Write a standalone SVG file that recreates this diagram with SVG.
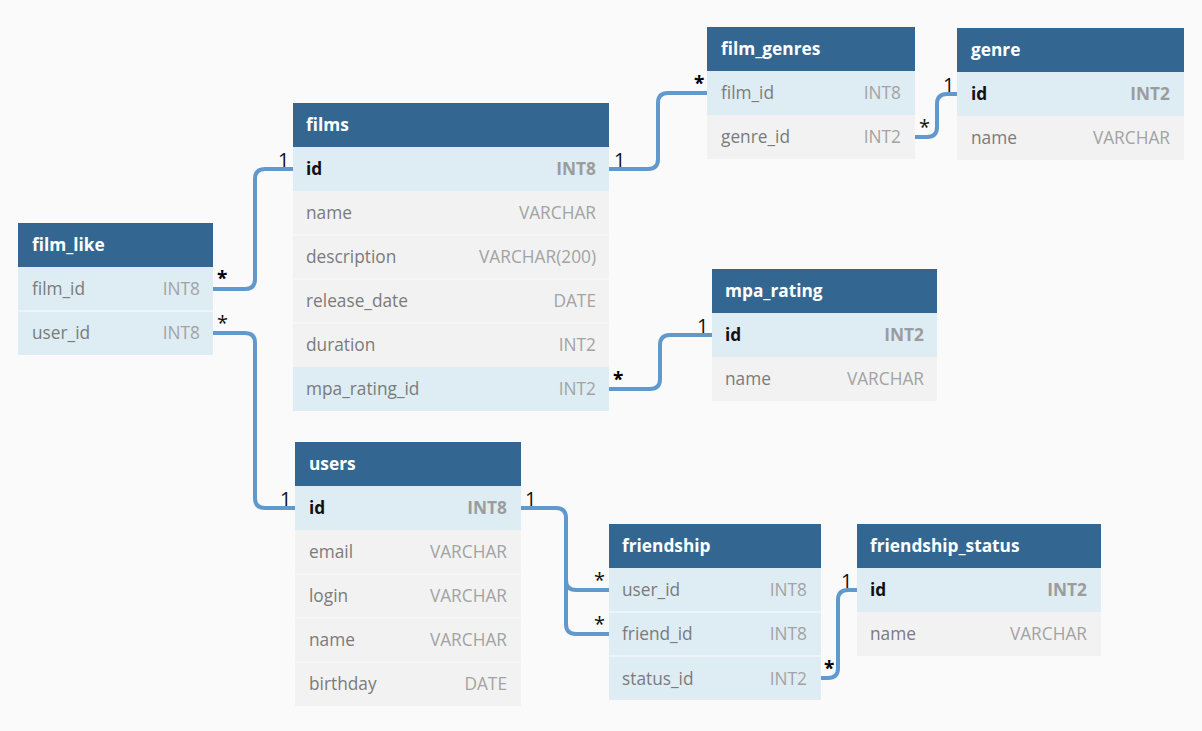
<svg xmlns="http://www.w3.org/2000/svg" width="1202" height="731" viewBox="0 0 1202 731">
<style>
.bg{fill:#fafafa}
.hd{fill:#336791}
.pk{fill:#deecf4}
.rw{fill:#f2f2f2}
.sep{stroke:#fafcfd;stroke-width:1}
.ht{font-family:"Open Sans","Noto Sans",sans-serif;font-size:17.3px;font-weight:bold;fill:#ffffff}
.fn{font-family:"Open Sans","Noto Sans",sans-serif;font-size:17.3px;fill:#7b7b7b}
.ft{font-family:"Open Sans","Noto Sans",sans-serif;font-size:17.3px;fill:#a3a3a3;text-anchor:end}
.kn{font-family:"Open Sans","Noto Sans",sans-serif;font-size:17.3px;font-weight:bold;fill:#111}
.kt{font-family:"Open Sans","Noto Sans",sans-serif;font-size:17.3px;font-weight:bold;fill:#9c9c9c;text-anchor:end}
.ln{fill:none;stroke:#6199cc;stroke-width:4}
.lb{font-family:"Open Sans","Noto Sans",sans-serif;font-size:20px;fill:#111}
.lbb{font-family:"Open Sans","Noto Sans",sans-serif;font-size:19px;font-weight:bold;fill:#000}
</style>
<rect class="bg" x="0" y="0" width="1202" height="731"/>

<g id="connectors">
<path class="ln" d="M213,289 H245 Q255,289 255,279 V179 Q255,169 265,169 H293"/>
<path class="ln" d="M213,333 H245 Q255,333 255,343 V498 Q255,508 265,508 H295"/>
<path class="ln" d="M609,169 H648 Q658,169 658,159 V103 Q658,93 668,93 H707"/>
<path class="ln" d="M915,137 H927 Q937,137 937,127 V104 Q937,94 947,94 H957"/>
<path class="ln" d="M609,389 H650 Q660,389 660,379 V345 Q660,335 670,335 H712"/>
<path class="ln" d="M521,508 H556 Q566,508 566,518 V580 Q566,590 576,590 H609"/>
<path class="ln" d="M566,560 V624 Q566,634 576,634 H609"/>
<path class="ln" d="M821,678 H828 Q838,678 838,668 V600 Q838,590 848,590 H857"/>
<text class="lbb" x="217" y="285">*</text>
<text class="lb" x="278" y="167">1</text>
<text class="lb" x="217" y="330">*</text>
<text class="lb" x="280" y="506">1</text>
<text class="lb" x="614" y="167">1</text>
<text class="lbb" x="694" y="90">*</text>
<text class="lb" x="919" y="134">*</text>
<text class="lb" x="943" y="92">1</text>
<text class="lbb" x="613" y="386">*</text>
<text class="lb" x="697" y="333">1</text>
<text class="lb" x="525" y="506">1</text>
<text class="lb" x="594" y="587">*</text>
<text class="lb" x="594" y="631">*</text>
<text class="lbb" x="824" y="675">*</text>
<text class="lb" x="841" y="588">1</text>
</g>

<g id="film_like">
<rect class="hd" x="18" y="223" width="195" height="44"/>
<rect class="pk" x="18" y="267" width="195" height="88"/>
<line class="sep" x1="18" y1="311" x2="213" y2="311"/>
<text class="ht" x="32" y="251">film_like</text>
<text class="fn" x="32" y="295">film_id</text><text class="ft" x="200" y="295">INT8</text>
<text class="fn" x="32" y="339">user_id</text><text class="ft" x="200" y="339">INT8</text>
</g>

<g id="films">
<rect class="hd" x="293" y="103" width="316" height="44"/>
<rect class="pk" x="293" y="147" width="316" height="44"/>
<rect class="rw" x="293" y="191" width="316" height="176"/>
<rect class="pk" x="293" y="367" width="316" height="44"/>
<line class="sep" x1="293" y1="235" x2="609" y2="235"/>
<line class="sep" x1="293" y1="279" x2="609" y2="279"/>
<line class="sep" x1="293" y1="323" x2="609" y2="323"/>
<text class="ht" x="306" y="131">films</text>
<text class="kn" x="306" y="175">id</text><text class="kt" x="596" y="175">INT8</text>
<text class="fn" x="306" y="219">name</text><text class="ft" x="596" y="219">VARCHAR</text>
<text class="fn" x="306" y="263">description</text><text class="ft" x="596" y="263">VARCHAR(200)</text>
<text class="fn" x="306" y="307">release_date</text><text class="ft" x="596" y="307">DATE</text>
<text class="fn" x="306" y="351">duration</text><text class="ft" x="596" y="351">INT2</text>
<text class="fn" x="306" y="395">mpa_rating_id</text><text class="ft" x="596" y="395">INT2</text>
</g>

<g id="film_genres">
<rect class="hd" x="707" y="27" width="208" height="44"/>
<rect class="pk" x="707" y="71" width="208" height="44"/>
<rect class="rw" x="707" y="115" width="208" height="44"/>
<text class="ht" x="721" y="55">film_genres</text>
<text class="fn" x="721" y="99">film_id</text><text class="ft" x="901" y="99">INT8</text>
<text class="fn" x="721" y="143">genre_id</text><text class="ft" x="901" y="143">INT2</text>
</g>

<g id="genre">
<rect class="hd" x="957" y="28" width="227" height="44"/>
<rect class="pk" x="957" y="72" width="227" height="44"/>
<rect class="rw" x="957" y="116" width="227" height="44"/>
<text class="ht" x="971" y="56">genre</text>
<text class="kn" x="971" y="100">id</text><text class="kt" x="1170" y="100">INT2</text>
<text class="fn" x="971" y="144">name</text><text class="ft" x="1170" y="144">VARCHAR</text>
</g>

<g id="mpa_rating">
<rect class="hd" x="712" y="269" width="225" height="44"/>
<rect class="pk" x="712" y="313" width="225" height="44"/>
<rect class="rw" x="712" y="357" width="225" height="44"/>
<text class="ht" x="725" y="297">mpa_rating</text>
<text class="kn" x="725" y="341">id</text><text class="kt" x="924" y="341">INT2</text>
<text class="fn" x="725" y="385">name</text><text class="ft" x="924" y="385">VARCHAR</text>
</g>

<g id="users">
<rect class="hd" x="295" y="442" width="226" height="44"/>
<rect class="pk" x="295" y="486" width="226" height="44"/>
<rect class="rw" x="295" y="530" width="226" height="176"/>
<line class="sep" x1="295" y1="574" x2="521" y2="574"/>
<line class="sep" x1="295" y1="618" x2="521" y2="618"/>
<line class="sep" x1="295" y1="662" x2="521" y2="662"/>
<text class="ht" x="309" y="470">users</text>
<text class="kn" x="309" y="514">id</text><text class="kt" x="507" y="514">INT8</text>
<text class="fn" x="309" y="558">email</text><text class="ft" x="507" y="558">VARCHAR</text>
<text class="fn" x="309" y="602">login</text><text class="ft" x="507" y="602">VARCHAR</text>
<text class="fn" x="309" y="646">name</text><text class="ft" x="507" y="646">VARCHAR</text>
<text class="fn" x="309" y="690">birthday</text><text class="ft" x="507" y="690">DATE</text>
</g>

<g id="friendship">
<rect class="hd" x="609" y="524" width="212" height="44"/>
<rect class="pk" x="609" y="568" width="212" height="132"/>
<line class="sep" x1="609" y1="612" x2="821" y2="612"/>
<line class="sep" x1="609" y1="656" x2="821" y2="656"/>
<text class="ht" x="622" y="552">friendship</text>
<text class="fn" x="622" y="596">user_id</text><text class="ft" x="807" y="596">INT8</text>
<text class="fn" x="622" y="640">friend_id</text><text class="ft" x="807" y="640">INT8</text>
<text class="fn" x="622" y="685">status_id</text><text class="ft" x="807" y="685">INT2</text>
</g>

<g id="friendship_status">
<rect class="hd" x="857" y="524" width="244" height="44"/>
<rect class="pk" x="857" y="568" width="244" height="44"/>
<rect class="rw" x="857" y="612" width="244" height="44"/>
<text class="ht" x="870" y="552">friendship_status</text>
<text class="kn" x="870" y="596">id</text><text class="kt" x="1087" y="596">INT2</text>
<text class="fn" x="870" y="640">name</text><text class="ft" x="1087" y="640">VARCHAR</text>
</g>
</svg>
